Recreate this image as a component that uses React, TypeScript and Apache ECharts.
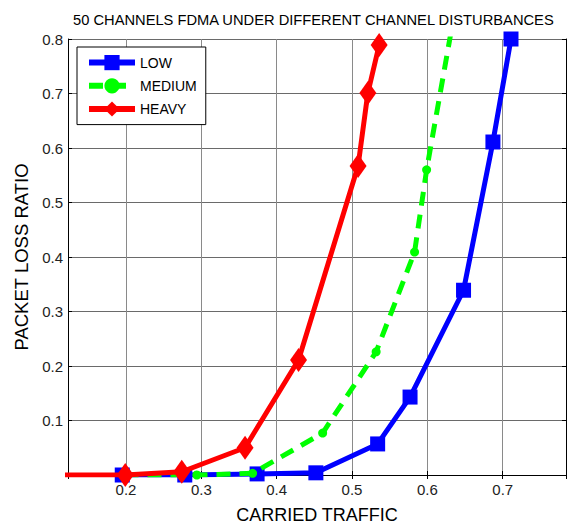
import React, { useEffect, useRef } from "react";
import * as echarts from "echarts";

const titleText = "50 CHANNELS FDMA UNDER DIFFERENT CHANNEL DISTURBANCES";
const xName = "CARRIED TRAFFIC";
const yName = "PACKET LOSS RATIO";

const lowX = [0.195, 0.278, 0.374, 0.452, 0.534, 0.577, 0.648, 0.687, 0.711];
const lowY = [0.0, 0.0, 0.002, 0.004, 0.057, 0.143, 0.339, 0.611, 0.8];

const mediumX = [0.198, 0.294, 0.368, 0.461, 0.532, 0.583, 0.599, 0.64];
const mediumY = [0.0, 0.0, 0.003, 0.077, 0.226, 0.409, 0.56, 0.88];

const heavyX = [0.1, 0.199, 0.274, 0.358, 0.429, 0.508, 0.521, 0.536];
const heavyY = [0.0, 0.0, 0.006, 0.05, 0.211, 0.567, 0.701, 0.789];

const seriesNames = ["LOW", "MEDIUM", "HEAVY"];

const zip = (xs: number[], ys: number[]) => xs.map((x, i) => [x, ys[i]]);

const FONT = "'Liberation Sans', Arial, sans-serif";

export default function App() {
  const ref = useRef<HTMLDivElement>(null);
  useEffect(() => {
    document.body.style.margin = "0";
    const chart = echarts.init(ref.current!, undefined, { renderer: "svg" });
    const axisCommon = {
      type: "value" as const,
      axisLine: { show: true, lineStyle: { color: "#000", width: 1 } },
      axisTick: { show: true, inside: true, length: 4, lineStyle: { color: "#000" } },
    };
    chart.setOption({
      animation: false,
      backgroundColor: "#fff",
      textStyle: { fontFamily: FONT },
      title: {
        text: titleText,
        left: 73,
        top: 12,
        padding: 0,
        textStyle: { fontSize: 14.7, fontWeight: "normal", color: "#000", fontFamily: FONT },
      },
      legend: {
        orient: "vertical",
        left: 77,
        top: 47,
        padding: [8, 9, 8, 9],
        itemWidth: 46,
        itemHeight: 19,
        itemGap: 8,
        backgroundColor: "#fff",
        borderColor: "#000",
        borderWidth: 1,
        lineStyle: { width: 6 },
        textStyle: { fontSize: 14, color: "#000", fontFamily: FONT },
        data: seriesNames,
      },
      grid: { left: 68, right: 3, top: 39, bottom: 49, show: false, outerBoundsMode: "none" },
      xAxis: [
        {
          ...axisCommon,
          min: 0.123,
          max: 0.784,
          splitNumber: 7,
          position: "bottom",
          name: xName,
          nameLocation: "middle",
          nameGap: 31,
          nameTextStyle: { fontSize: 18, color: "#000", fontFamily: FONT },
          axisLabel: {
            showMinLabel: false,
            showMaxLabel: false,
            fontSize: 15,
            color: "#222",
            margin: 7,
            fontFamily: FONT,
          },
          splitLine: { show: true, lineStyle: { color: "#8a8a8a", width: 1 } },
        },
        {
          ...axisCommon,
          min: 0.123,
          max: 0.784,
          splitNumber: 7,
          position: "top",
          axisLabel: { show: false },
          splitLine: { show: false },
        },
      ],
      yAxis: [
        {
          ...axisCommon,
          min: 0,
          max: 0.8,
          interval: 0.1,
          position: "left",
          name: yName,
          nameLocation: "middle",
          nameGap: 35,
          nameTextStyle: { fontSize: 18.5, color: "#000", fontFamily: FONT },
          axisLabel: {
            showMinLabel: false,
            fontSize: 15,
            color: "#222",
            margin: 5,
            fontFamily: FONT,
          },
          splitLine: { show: true, lineStyle: { color: "#6a6a6a", width: 1 } },
        },
        {
          ...axisCommon,
          min: 0,
          max: 0.8,
          interval: 0.1,
          position: "right",
          axisLabel: { show: false },
          splitLine: { show: false },
        },
      ],
      series: [
        {
          name: seriesNames[0],
          type: "line",
          data: zip(lowX, lowY),
          symbol: "rect",
          symbolSize: 15,
          clip: true,
          lineStyle: { color: "#0000ff", width: 5 },
          itemStyle: { color: "#0000ff" },
          z: 2,
        },
        {
          name: seriesNames[1],
          type: "line",
          data: zip(mediumX, mediumY),
          symbol: "circle",
          symbolSize: 9,
          clip: true,
          lineStyle: { color: "#00ff00", width: 5, type: [14, 9] },
          itemStyle: { color: "#00ff00" },
          z: 3,
        },
        {
          name: seriesNames[2],
          type: "line",
          data: zip(heavyX, heavyY),
          symbol: "diamond",
          symbolSize: [17, 24],
          clip: true,
          lineStyle: { color: "#ff0000", width: 5 },
          itemStyle: { color: "#ff0000" },
          z: 4,
        },
      ],
    });
    return () => chart.dispose();
  }, []);
  return <div ref={ref} style={{ width: 569, height: 524 }} />;
}
